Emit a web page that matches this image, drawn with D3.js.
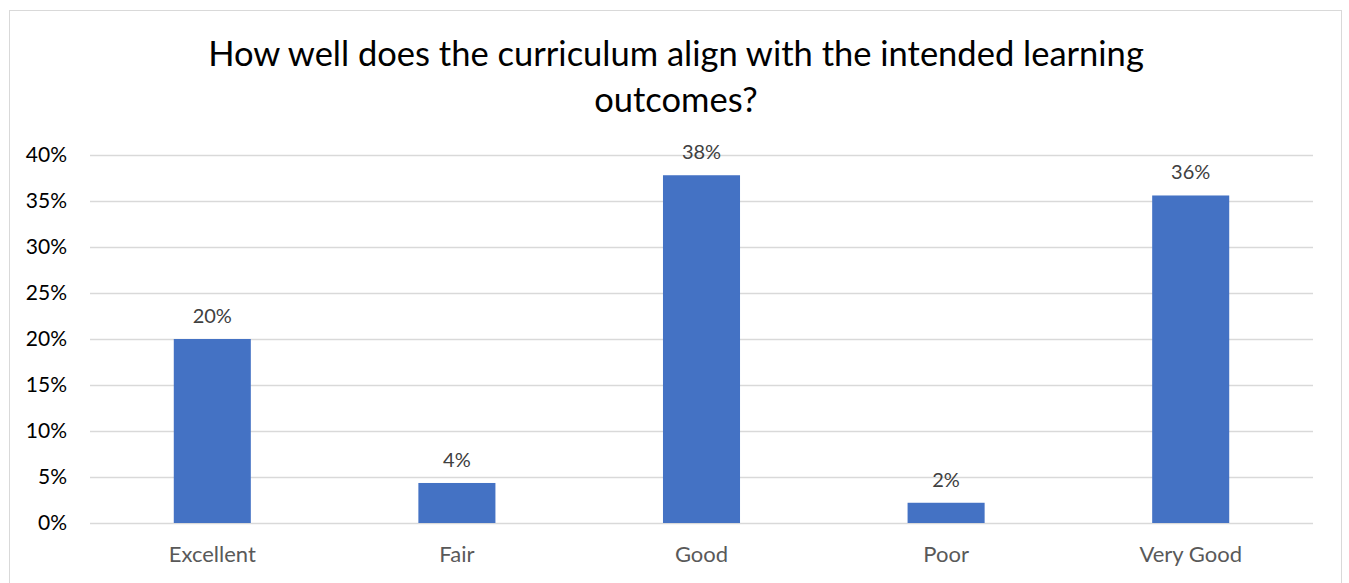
<!DOCTYPE html>
<html><head><meta charset="utf-8">
<script src="https://cdn.jsdelivr.net/npm/d3@7"></script>
<style>body{margin:0;background:#fff}svg{display:block}</style>
</head><body>
<script>
const categories = ["Excellent","Fair","Good","Poor","Very Good"];
const values = [0.20, 0.0435, 0.378, 0.022, 0.356];
const labels = ["20%","4%","38%","2%","36%"];
const yTicks = [0,0.05,0.10,0.15,0.20,0.25,0.30,0.35,0.40];
const titleLines = ["How well does the curriculum align with the intended learning","outcomes?"];

const W=1349,H=583;
const font="Lato, 'Open Sans', sans-serif";
const svg=d3.select("body").append("svg").attr("width",W).attr("height",H);
svg.append("rect").attr("x",9.5).attr("y",10.5).attr("width",1332).attr("height",600)
  .attr("fill","#fff").attr("stroke","#d9d9d9");
const m={l:90,r:1313,t:155,b:523};
const x=d3.scaleBand().domain(categories).range([m.l,m.r]).paddingInner(0.685).paddingOuter(0.3425);
const y=d3.scaleLinear().domain([0,0.4]).range([m.b,m.t]);

svg.append("g").selectAll("line").data(yTicks).join("line")
  .attr("x1",m.l).attr("x2",m.r).attr("y1",d=>Math.round(y(d))+0.5).attr("y2",d=>Math.round(y(d))+0.5)
  .attr("stroke","#d9d9d9").attr("stroke-width",1.5);

const yAxis=svg.append("g").attr("transform",`translate(${m.l},0)`)
  .call(d3.axisLeft(y).tickValues(yTicks).tickFormat(d3.format(".0%")).tickSize(0).tickPadding(23));
yAxis.select(".domain").remove();
yAxis.selectAll("text").attr("font-family",font).attr("font-size",21).attr("fill","#000");

svg.append("g").selectAll("rect").data(values).join("rect")
  .attr("x",(d,i)=>x(categories[i])).attr("width",x.bandwidth())
  .attr("y",d=>y(d)).attr("height",d=>y(0)-y(d)).attr("fill","#4472C4");

svg.append("g").selectAll("text").data(values).join("text")
  .attr("x",(d,i)=>x(categories[i])+x.bandwidth()/2).attr("y",d=>y(d)-16)
  .attr("text-anchor","middle").attr("font-family",font).attr("font-size",20).attr("fill","#404040")
  .text((d,i)=>labels[i]);

const xAxis=svg.append("g").attr("transform",`translate(0,${m.b})`)
  .call(d3.axisBottom(x).tickSize(0).tickPadding(23));
xAxis.select(".domain").remove();
xAxis.selectAll("text").attr("font-family",font).attr("font-size",22).attr("fill","#595959");

svg.append("g").selectAll("text").data(titleLines).join("text")
  .attr("x",676).attr("y",(d,i)=>66+i*46).attr("text-anchor","middle")
  .attr("font-family",font).attr("font-size",34.5).attr("fill","#000").text(d=>d);
</script>
</body></html>
